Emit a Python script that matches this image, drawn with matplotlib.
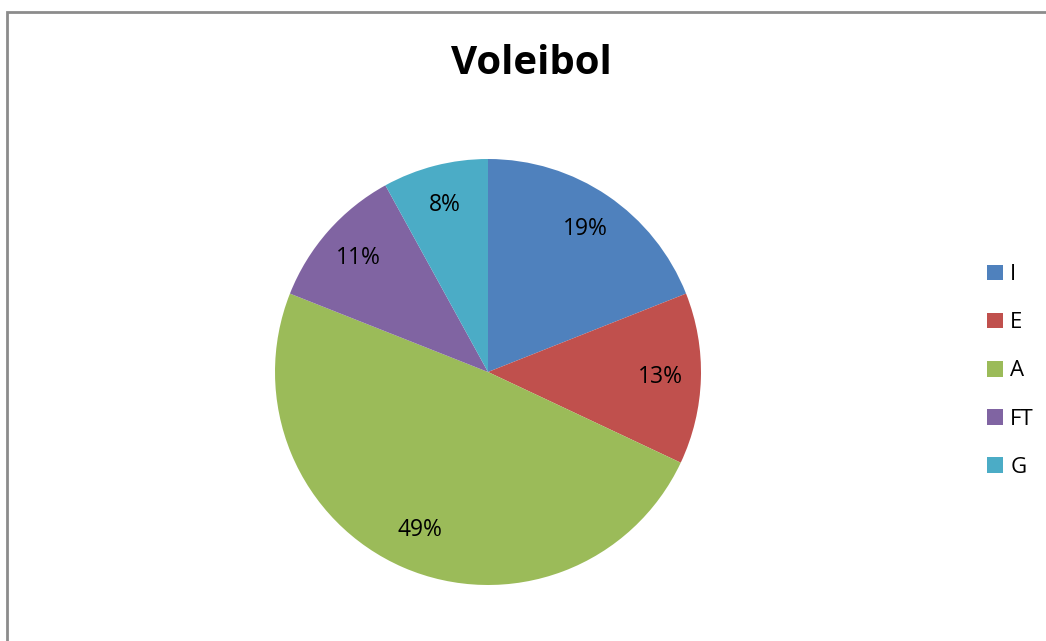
import matplotlib
matplotlib.use("Agg")
from matplotlib import pyplot as plt
from matplotlib.patches import Rectangle

labels = ["I", "E", "A", "FT", "G"]
values = [19, 13, 49, 11, 8]
colors = ["#4F81BD", "#C0504D", "#9BBB59", "#8064A2", "#4BACC6"]

W, H = 1046, 641
plt.rcParams['font.family'] = ['Open Sans', 'DejaVu Sans']

fig = plt.figure(figsize=(W / 100, H / 100), dpi=100)
ax = fig.add_axes([0, 0, 1, 1])
ax.set_xlim(0, W)
ax.set_ylim(0, H)
ax.set_aspect('equal')
ax.axis('off')

# pie centre / radius in pixels
wedges, texts, autotexts = ax.pie(values, colors=colors, startangle=90, counterclock=False,
                                  center=(488, H - 372), radius=213,
                                  autopct='%1.0f%%', pctdistance=0.81,
                                  textprops={'fontsize': 16.5, 'color': 'black'})
ax.set_xlim(0, W)
ax.set_ylim(0, H)

fig.text(531 / W, 1 - 63 / H, "Voleibol", ha='center', va='center',
         fontsize=29, fontweight='bold')

fig.legend(wedges, labels, loc='center left', bbox_to_anchor=(967 / W, 1 - 371 / H),
           frameon=False, fontsize=16, handlelength=0.7, handleheight=0.7,
           handletextpad=0.35, labelspacing=1.22)

# outer chart frame (right and bottom edges are cut off)
fig.add_artist(Rectangle((7 / W, -0.1), 1.2, (H - 12) / H + 0.1, transform=fig.transFigure,
                         fill=False, edgecolor='#8c8c8c', lw=2))

fig.savefig("out.png", dpi=100)
